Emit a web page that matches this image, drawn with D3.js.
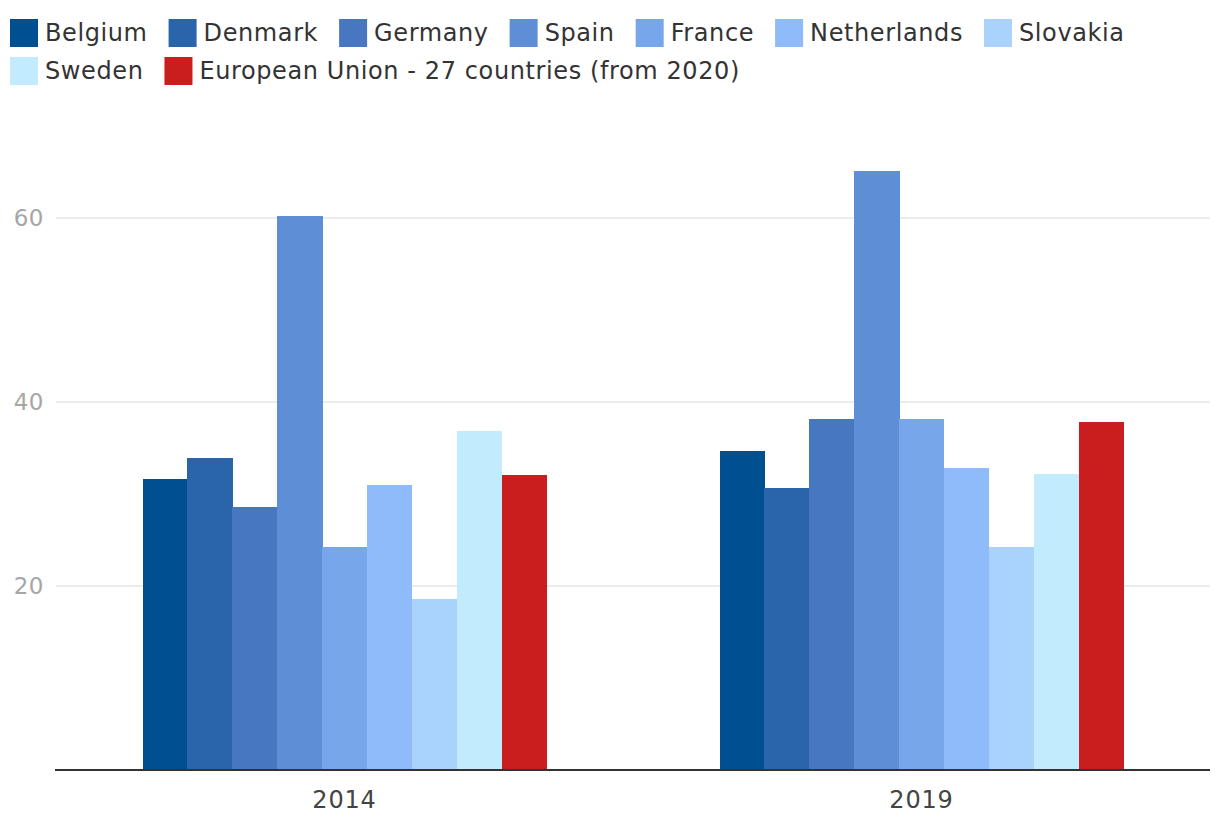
<!DOCTYPE html>
<html><head><meta charset="utf-8">
<script src="https://cdn.jsdelivr.net/npm/d3@7"></script>
<style>body{margin:0;background:#fff;} text{font-family:"DejaVu Sans",sans-serif;}</style>
</head><body><svg id="c" width="1220" height="834"></svg>
<script>
const years = ["2014", "2019"];
const countries = ["Belgium","Denmark","Germany","Spain","France","Netherlands","Slovakia","Sweden","European Union - 27 countries (from 2020)"];
const colors = ["#004f91","#2a64aa","#4677c0","#5e8fd6","#77a6ea","#8fbbfb","#a9d3fd","#c2ecfe","#c91d1e"];
const values2014 = [31.6, 33.9, 28.6, 60.2, 24.2, 31.0, 18.6, 36.8, 32.1];
const values2019 = [34.7, 30.7, 38.2, 65.1, 38.2, 32.8, 24.2, 32.2, 37.8];
const yTicks = [20, 40, 60];

const series = [values2014, values2019];
const svg = d3.select("#c");
const x0 = d3.scaleBand().domain(years).range([56, 1210]).paddingInner(0.3).paddingOuter(0.15);
const x1 = d3.scaleBand().domain(countries).range([0, x0.bandwidth()]);
const y = d3.scaleLinear().domain([0, 70]).range([770, 126]);

// grid
svg.append("g").selectAll("line").data(yTicks).join("line")
  .attr("x1", 56).attr("x2", 1210).attr("y1", d=>y(d)).attr("y2", d=>y(d))
  .attr("stroke", "#e6e6e6").attr("stroke-width", 1.5);
svg.append("g").selectAll("text").data(yTicks).join("text")
  .attr("x", 44).attr("y", d=>y(d)).attr("dy", "0.35em").attr("text-anchor", "end")
  .attr("fill", "#a6a6a6").attr("font-size", 23).attr("letter-spacing", 0.5).text(d=>d);

// bars
years.forEach((yr, i) => {
  svg.append("g").attr("shape-rendering", "crispEdges").selectAll("rect").data(series[i]).join("rect")
    .attr("x", (d, j) => x0(yr) + x1(countries[j]))
    .attr("width", x1.bandwidth() + 0.5)
    .attr("y", d => y(d)).attr("height", d => y(0) - y(d))
    .attr("fill", (d, j) => colors[j]);
});

// axis
svg.append("line").attr("x1", 55).attr("x2", 1210).attr("y1", 770).attr("y2", 770)
  .attr("stroke", "#333").attr("stroke-width", 2);
svg.append("g").selectAll("text").data(years).join("text")
  .attr("x", d => x0(d) + x0.bandwidth()/2).attr("y", 800).attr("dy", "0.35em")
  .attr("text-anchor", "middle").attr("fill", "#444").attr("font-size", 24).attr("letter-spacing", 0.8).text(d=>d);

// legend
const lg = svg.append("g");
let lx = 10, ly = 19;
countries.forEach((c, j) => {
  const g = lg.append("g");
  g.append("rect").attr("width", 28).attr("height", 28).attr("fill", colors[j]);
  const t = g.append("text").attr("x", 35).attr("y", 14).attr("dy", "0.35em")
    .attr("fill", "#333").attr("font-size", 24).attr("letter-spacing", 0.6).text(c);
  const w = 35 + t.node().getComputedTextLength();
  if (lx + w > 1215) { lx = 10; ly += 38; }
  g.attr("transform", `translate(${lx},${ly})`);
  lx += w + 21;
});
</script></body></html>
